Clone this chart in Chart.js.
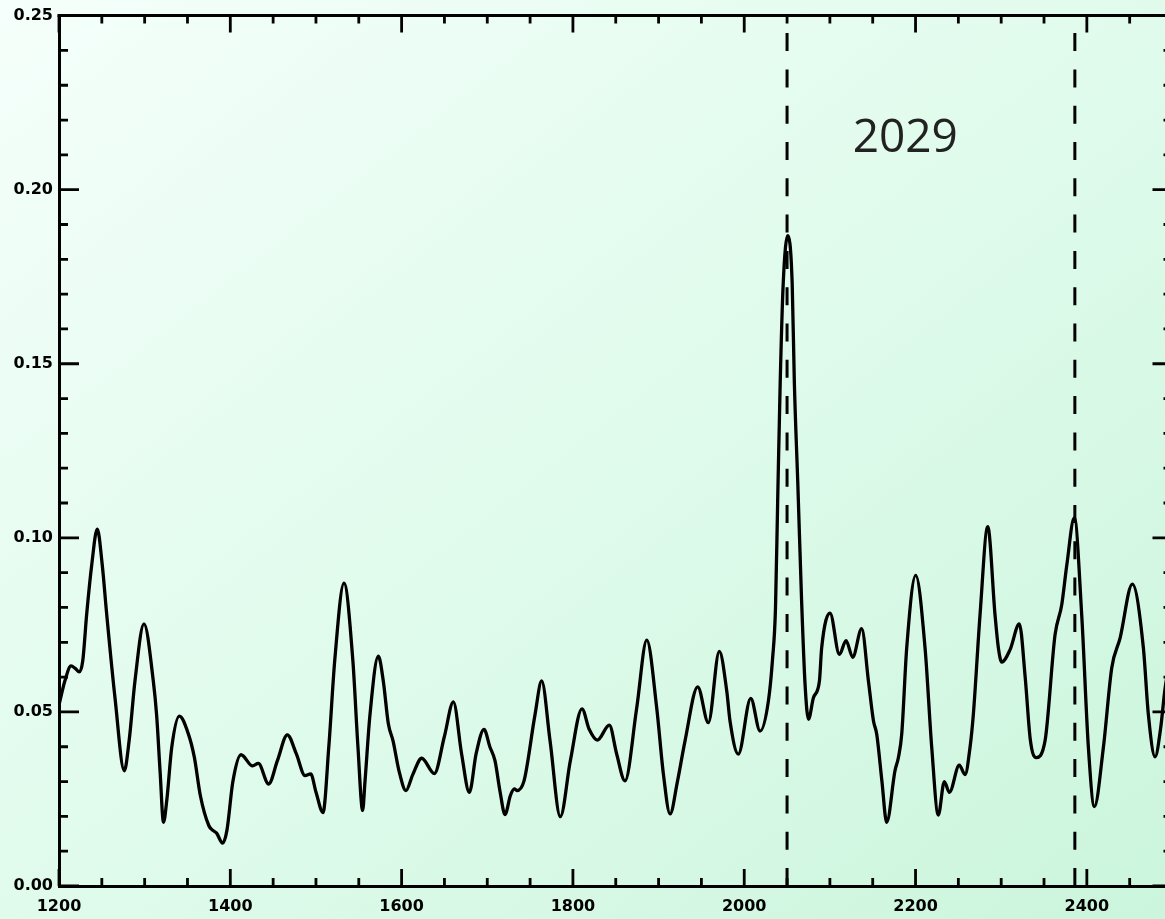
<!DOCTYPE html>
<html>
<head>
<meta charset="utf-8">
<script src="https://cdn.jsdelivr.net/npm/chart.js@4/dist/chart.umd.min.js"></script>
<style>
  html, body { margin: 0; padding: 0; width: 1165px; height: 919px; overflow: hidden; }
  body { background: linear-gradient(to bottom right, #f5fffb 0%, #e0fbec 50%, #cbf5dc 100%); }
  #wrap { position: absolute; left: 0; top: 0; width: 1190px; height: 919px; }
</style>
</head>
<body>
<div id="wrap"><canvas id="c"></canvas></div>
<script>
// Period axis (x) and power (y) samples of the spectrum curve
const periods = [
  1200, 1207, 1214, 1219, 1223.7, 1227.7, 1232.3, 1238.2, 1244.7, 1250.5, 1255.7, 1265.4, 1276.2,
  1282, 1288.7, 1299.2, 1310.1, 1314, 1318, 1322, 1326, 1331.6, 1340.5, 1351, 1358, 1365, 1375,
  1380, 1384, 1391, 1396, 1403, 1412.5, 1426, 1432.7, 1444.8, 1455, 1466.6, 1477, 1487.2, 1493.9,
  1500, 1508.2, 1515, 1522, 1532.7, 1543, 1549, 1554.5, 1557.3, 1563.1, 1572.8, 1578.6, 1584.5,
  1590, 1597, 1605.1, 1613, 1623.5, 1638.2, 1650, 1660.4, 1670, 1679.1, 1687, 1696.2, 1703, 1709,
  1715, 1720.7, 1727, 1731.6, 1734.5, 1742.9, 1755.8, 1763.5, 1773.3, 1785.3, 1797, 1810.6, 1819,
  1828.5, 1842.5, 1851, 1860.8, 1874.5, 1886.2, 1897.8, 1905.6, 1913.4, 1922, 1930.9, 1945.7,
  1958.1, 1970.9, 1979.6, 1983.4, 1993.1, 2007.6, 2018.5, 2028.2, 2033, 2036.5, 2039, 2042, 2045.5,
  2050.8, 2056, 2058.5, 2062.5, 2067, 2071, 2075, 2080.8, 2087.8, 2090.4, 2100.2, 2111.1, 2118.9,
  2126.6, 2137.1, 2145, 2150.9, 2154.7, 2160.7, 2166.3, 2176, 2180, 2183.9, 2189.7, 2200.2, 2211.1,
  2218.9, 2226.6, 2233.6, 2239.5, 2251.1, 2257.8, 2263.6, 2267.5, 2275.3, 2284.3, 2292.8, 2296.7,
  2300.6, 2310.4, 2321.2, 2328, 2334, 2340.7, 2351.2, 2362.9, 2370.7, 2376.6, 2385.4, 2394, 2401.8,
  2408.8, 2419.3, 2429.1, 2438.8, 2453.1, 2466, 2471.8, 2479.7, 2486, 2491.4, 2500
];
const power = [
  0.052, 0.059, 0.0632, 0.0625, 0.0615, 0.0646, 0.078, 0.0922, 0.1025, 0.0922, 0.078, 0.054, 0.0331,
  0.042, 0.0589, 0.0753, 0.0589, 0.049, 0.033, 0.0183, 0.025, 0.0398, 0.0488, 0.0437, 0.037, 0.026, 0.0173,
  0.0159, 0.0152, 0.0123, 0.0159, 0.03, 0.0377, 0.0345, 0.0352, 0.0293, 0.036, 0.0434, 0.038, 0.0317, 0.0322,
  0.027, 0.0211, 0.040, 0.065, 0.087, 0.065, 0.040, 0.0217, 0.0302, 0.0493, 0.066, 0.0589, 0.0466,
  0.0417, 0.033, 0.0274, 0.032, 0.0367, 0.0323, 0.043, 0.0529, 0.038, 0.0269, 0.038, 0.045, 0.040, 0.036,
  0.027, 0.0205, 0.026, 0.0279, 0.0274, 0.0302, 0.0493, 0.0589, 0.0417, 0.0199, 0.036, 0.0509, 0.045,
  0.0419, 0.0462, 0.038, 0.0302, 0.0512, 0.0706, 0.0512, 0.0322, 0.0207, 0.030, 0.0417, 0.0572,
  0.0469, 0.0674, 0.056, 0.0474, 0.0379, 0.0539, 0.0445, 0.0531, 0.065, 0.0798, 0.110, 0.1447, 0.173,
  0.1868, 0.173, 0.1447, 0.116, 0.0818, 0.058, 0.0479, 0.0541, 0.0589, 0.0684, 0.0784, 0.0665, 0.0705,
  0.0657, 0.0739, 0.0589, 0.0474, 0.0436, 0.0302, 0.0183, 0.0331, 0.0369, 0.0437, 0.0684, 0.0892, 0.0684,
  0.0398, 0.0204, 0.030, 0.0269, 0.0347, 0.032, 0.0398, 0.0493, 0.0779, 0.1032, 0.0779, 0.0684,
  0.0643, 0.0679, 0.0753, 0.060, 0.042, 0.0369, 0.0417, 0.0722, 0.0808, 0.0922, 0.1058, 0.0779, 0.0398,
  0.0228, 0.0398, 0.0627, 0.0712, 0.0867, 0.0684, 0.0493, 0.0371, 0.045, 0.0569, 0.068
];

// Marked periods (dashed verticals) and the annotation text
const markedPeriods = [2050, 2386];
const noteText = '2029';
const notePos = { x: 2188, y: 0.2145 };

// Axis ranges and tick spacing
const xRange = [1200, 2500];
const yRange = [0, 0.25];
const xMajorStep = 200, xMinorStep = 50;
const yMajorStep = 0.05, yMinorStep = 0.01;

const points = periods.map((p, i) => ({ x: p, y: power[i] }));

// Frame on all four sides with inward-pointing major/minor ticks,
// plus the dashed marker lines and the annotation.
const framePlugin = {
  id: 'frame',
  afterDraw(chart) {
    const { ctx, chartArea: a, scales: { x, y } } = chart;
    ctx.save();
    ctx.strokeStyle = '#000';
    ctx.lineCap = 'butt';

    // dashed markers, dash pattern laid from the bottom axis upward
    ctx.lineWidth = 3;
    ctx.setLineDash([18, 18.3]);
    markedPeriods.forEach(p => {
      const px = x.getPixelForValue(p);
      ctx.beginPath();
      ctx.moveTo(px, a.bottom);
      ctx.lineTo(px, a.top);
      ctx.stroke();
    });
    ctx.setLineDash([]);

    // top and right frame lines
    ctx.lineWidth = 3;
    ctx.beginPath();
    ctx.moveTo(a.left - 1.5, a.top);
    ctx.lineTo(a.right, a.top);
    ctx.lineTo(a.right, a.bottom);
    ctx.stroke();

    // x ticks (bottom and top)
    ctx.lineWidth = 2.8;
    const nx = Math.round((xRange[1] - xRange[0]) / xMinorStep);
    for (let i = 0; i <= nx; i++) {
      const v = xRange[0] + i * xMinorStep;
      const major = Math.abs(v % xMajorStep) < 1e-6;
      const len = major ? 17 : 8;
      const px = x.getPixelForValue(v);
      ctx.beginPath();
      ctx.moveTo(px, a.bottom);
      ctx.lineTo(px, a.bottom - len);
      ctx.moveTo(px, a.top);
      ctx.lineTo(px, a.top + len);
      ctx.stroke();
    }
    // y ticks (left and right)
    const ny = Math.round((yRange[1] - yRange[0]) / yMinorStep);
    for (let i = 0; i <= ny; i++) {
      const v = yRange[0] + i * yMinorStep;
      const major = i % Math.round(yMajorStep / yMinorStep) === 0;
      const len = major ? 20 : 9;
      const py = y.getPixelForValue(v);
      ctx.beginPath();
      ctx.moveTo(a.left, py);
      ctx.lineTo(a.left + len, py);
      ctx.moveTo(a.right, py);
      ctx.lineTo(a.right - len, py);
      ctx.stroke();
    }

    // annotation
    ctx.fillStyle = '#222';
    ctx.font = '46px "Open Sans"';
    ctx.textAlign = 'center';
    ctx.textBaseline = 'middle';
    ctx.fillText(noteText, x.getPixelForValue(notePos.x), y.getPixelForValue(notePos.y));
    ctx.restore();
  }
};

const tickFont = { family: '"DejaVu Sans", sans-serif', size: 16, weight: 'bold' };

new Chart(document.getElementById('c'), {
  type: 'line',
  data: {
    datasets: [{
      data: points,
      borderColor: '#000',
      borderWidth: 3.3,
      pointRadius: 0,
      fill: false,
      cubicInterpolationMode: 'monotone'
    }]
  },
  options: {
    responsive: true,
    maintainAspectRatio: false,
    animation: false,
    layout: { padding: { top: 12, right: 17.5, left: 0, bottom: 0 } },
    plugins: { legend: { display: false }, tooltip: { enabled: false } },
    scales: {
      x: {
        type: 'linear',
        min: xRange[0], max: xRange[1],
        afterFit(scale) { scale.height = 33; },
        grid: { display: false, drawTicks: false },
        border: { display: true, color: '#000', width: 3 },
        ticks: {
          stepSize: xMajorStep,
          padding: 11,
          color: '#000',
          font: tickFont,
          maxRotation: 0,
          autoSkip: false,
          callback: v => (Math.abs(v % xMajorStep) < 1e-6 ? String(v) : '')
        }
      },
      y: {
        min: yRange[0], max: yRange[1],
        afterFit(scale) { scale.width = 59; },
        grid: { display: false, drawTicks: false },
        border: { display: true, color: '#000', width: 3 },
        ticks: {
          stepSize: yMajorStep,
          padding: 6,
          color: '#000',
          font: tickFont,
          callback: v => Number(v).toFixed(2)
        }
      }
    }
  },
  plugins: [framePlugin]
});
</script>
</body>
</html>
